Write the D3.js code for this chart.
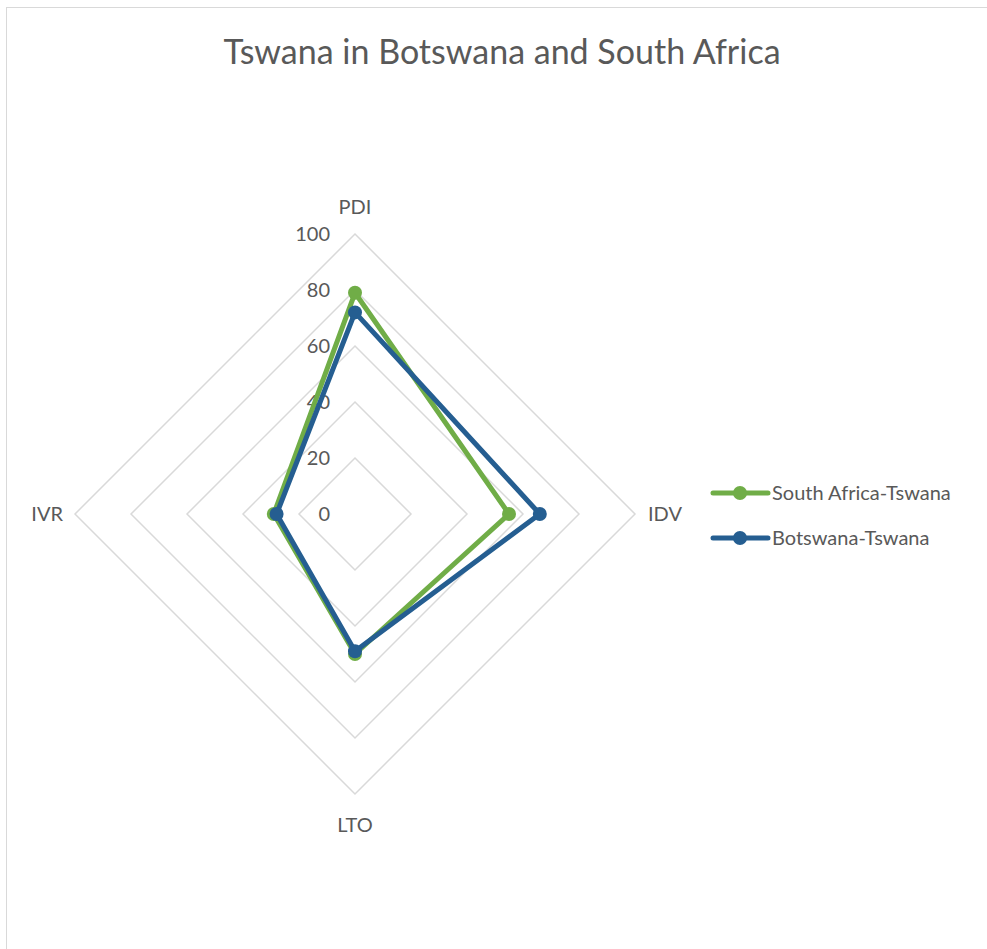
<!DOCTYPE html>
<html>
<head>
<meta charset="utf-8">
<script src="https://cdn.jsdelivr.net/npm/d3@7"></script>
<style>
  body { margin: 0; background: #fff; }
  text { font-family: Lato, "Open Sans", sans-serif; fill: #595959; }
</style>
</head>
<body>
<div id="chart"></div>
<script>
const axes = ["PDI", "IDV", "LTO", "IVR"];
const ticks = [0, 20, 40, 60, 80, 100];
const seriesNames = ["South Africa-Tswana", "Botswana-Tswana"];
const southAfrica = [79, 55, 50, 29];
const botswana = [72, 66, 49, 28];
const colors = ["#70AD47", "#255E91"];

const width = 987, height = 949;
const cx = 355, cy = 514, radius = 280;

const svg = d3.select("#chart").append("svg")
    .attr("width", width)
    .attr("height", height);

// chart border
svg.append("rect")
    .attr("x", 6.5).attr("y", 7.5)
    .attr("width", width).attr("height", height)
    .attr("fill", "none")
    .attr("stroke", "#D9D9D9")
    .attr("stroke-width", 1);

svg.append("text")
    .attr("x", 502)
    .attr("y", 64)
    .attr("text-anchor", "middle")
    .attr("font-size", "34px")
    .text("Tswana in Botswana and South Africa");

const r = d3.scaleLinear().domain([0, 100]).range([0, radius]);
const angle = i => (i / axes.length) * 2 * Math.PI;
const pt = (i, v) => [cx + r(v) * Math.sin(angle(i)), cy - r(v) * Math.cos(angle(i))];

const g = svg.append("g");

// grid diamonds
g.selectAll("path.grid")
    .data(ticks)
    .join("path")
    .attr("class", "grid")
    .attr("d", t => d3.line()(axes.map((a, i) => pt(i, t))) + "Z")
    .attr("fill", "none")
    .attr("stroke", "#D9D9D9")
    .attr("stroke-width", 1.5);

// tick labels
g.selectAll("text.tick")
    .data(ticks)
    .join("text")
    .attr("class", "tick")
    .attr("x", cx - 25)
    .attr("y", t => cy - r(t))
    .attr("dy", "0.35em")
    .attr("text-anchor", "end")
    .attr("font-size", "20px")
    .text(d => d);

// axis labels
const labelPos = [
    { dx: 0, dy: -20, anchor: "middle" },
    { dx: 13, dy: 7, anchor: "start" },
    { dx: 0, dy: 38, anchor: "middle" },
    { dx: -12, dy: 7, anchor: "end" }
];
g.selectAll("text.axis")
    .data(axes)
    .join("text")
    .attr("class", "axis")
    .attr("x", (d, i) => pt(i, 100)[0] + labelPos[i].dx)
    .attr("y", (d, i) => pt(i, 100)[1] + labelPos[i].dy)
    .attr("text-anchor", (d, i) => labelPos[i].anchor)
    .attr("font-size", "20px")
    .text(d => d);

// series
const series = [southAfrica, botswana];
series.forEach((vals, s) => {
    const pts = vals.map((v, i) => pt(i, v));
    g.append("path")
        .attr("d", d3.line()(pts) + "Z")
        .attr("fill", "none")
        .attr("stroke", colors[s])
        .attr("stroke-width", 5)
        .attr("stroke-linejoin", "round");
    g.selectAll(null)
        .data(pts)
        .join("circle")
        .attr("cx", d => d[0])
        .attr("cy", d => d[1])
        .attr("r", 7)
        .attr("fill", colors[s]);
});

// legend
const legend = svg.append("g");
seriesNames.forEach((name, s) => {
    const y = 493 + s * 45;
    legend.append("line")
        .attr("x1", 713).attr("x2", 768)
        .attr("y1", y).attr("y2", y)
        .attr("stroke", colors[s])
        .attr("stroke-width", 5)
        .attr("stroke-linecap", "round");
    legend.append("circle")
        .attr("cx", 740).attr("cy", y)
        .attr("r", 7)
        .attr("fill", colors[s]);
    legend.append("text")
        .attr("x", 772).attr("y", y)
        .attr("dy", "0.35em")
        .attr("font-size", "20px")
        .text(name);
});
</script>
</body>
</html>
